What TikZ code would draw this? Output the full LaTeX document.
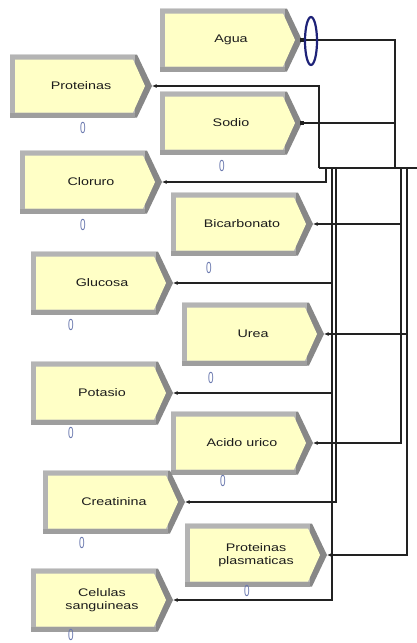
\documentclass[tikz,border=0pt]{standalone}
\usepackage{fontspec}
\setmainfont[FakeStretch=1.3]{Liberation Sans}
\newfontfamily\countfont[FakeStretch=0.62]{Liberation Sans}
\usetikzlibrary{arrows.meta,shapes.geometric}

\definecolor{procfill}{HTML}{FFFFC6}
\definecolor{bevlight}{HTML}{B4B4B4}
\definecolor{bevmid}{HTML}{9E9E9E}
\definecolor{bevdark}{HTML}{878787}
\definecolor{countblue}{HTML}{6A78AE}
\definecolor{queuenavy}{HTML}{1E2278}
\definecolor{wire}{HTML}{222222}
\definecolor{labelink}{HTML}{1C1C1C}

\tikzset{
  proclabel/.style={inner sep=0pt, align=center, text=labelink,
                    font=\fontsize{11}{12.5}\selectfont},
  counter/.style={inner sep=0pt, text=countblue,
                  font=\countfont\fontsize{16}{16}\selectfont},
  queue/.style={ellipse, draw=queuenavy, line width=2.2pt,
                minimum width=12pt, minimum height=48pt, inner sep=0pt},
  conn/.style={draw=wire, line width=1.15pt},
  into/.style={conn, -{Latex[length=4.5pt,width=4pt]}},
  exitbox/.style={rectangle, fill=wire, minimum size=3.2pt, inner sep=0pt},
}

% Process block: #1 name, #2 tip x, #3 tip y, #4 label
\newcommand\procblock[4]{%
  \begin{scope}[shift={(#2,#3)}]
    \fill[bevdark] (-142,-31.5) -- (-15,-31.5) -- (0,0) -- (-15,31.5)
                   -- (-142,31.5) -- cycle;
    \fill[bevlight] (-142,-31.5) rectangle (-17,31.5);
    \fill[bevmid] (-142,26.5) rectangle (-17,31.5);
    \fill[procfill] (-137,-26.5) -- (-19,-26.5) -- (-7,0) -- (-19,26.5)
                    -- (-137,26.5) -- cycle;
  \end{scope}
  \node[proclabel] (#1) at (#2-71,#3) {#4};
  \coordinate (#1 tip) at (#2,#3);
}

\begin{document}
\begin{tikzpicture}[x=1pt,y=-1pt]
  \useasboundingbox (0,0) rectangle (417,643);

  % blocks
  \procblock{agua}{302}{40}{Agua}
  \procblock{proteinas}{152}{86}{Proteinas}
  \procblock{sodio}{302}{123}{Sodio}
  \procblock{cloruro}{162}{182}{Cloruro}
  \procblock{bicarbonato}{313}{224}{Bicarbonato}
  \procblock{glucosa}{173}{283}{Glucosa}
  \procblock{urea}{324}{334}{Urea}
  \procblock{potasio}{173}{393}{Potasio}
  \procblock{acido}{313}{443}{Acido urico}
  \procblock{creatinina}{185}{502}{Creatinina}
  \procblock{plasma}{327}{555}{Proteinas\\plasmaticas}
  \procblock{celulas}{173}{600}{Celulas\\sanguineas}

  % counters under the blocks
  \node[counter] (proteinas count)   at (83,128)  {0};
  \node[counter] (sodio count)       at (222,166) {0};
  \node[counter] (cloruro count)     at (83,225)  {0};
  \node[counter] (bicarbonato count) at (209,268) {0};
  \node[counter] (glucosa count)     at (71,325)  {0};
  \node[counter] (urea count)        at (211,378) {0};
  \node[counter] (potasio count)     at (71,433)  {0};
  \node[counter] (acido count)       at (223,481) {0};
  \node[counter] (creatinina count)  at (82,543)  {0};
  \node[counter] (plasma count)      at (247,591) {0};
  \node[counter] (celulas count)     at (71,635)  {0};

  % bus and drop points
  \coordinate (bus west) at (319,168);
  \coordinate (bus east) at (417,168);
  \coordinate (bus join) at (395,168);
  \coordinate (drop cl)  at (326,168);
  \coordinate (drop a)   at (332,168);
  \coordinate (drop b)   at (336,168);
  \coordinate (drop c)   at (401,168);
  \coordinate (drop d)   at (407,168);

  % sources
  \draw[conn] (agua tip) -| (bus join);
  \draw[conn] (sodio tip) -- (sodio tip -| bus join);
  \draw[conn] (bus west) -- (bus east);
  \node[exitbox] (agua out) at (agua tip) {};
  \node[exitbox] (sodio out) at (sodio tip) {};
  \node[queue] (agua queue) at (311,41) {};

  % destinations
  \draw[into] (bus west) |- (proteinas tip);
  \draw[into] (drop cl) |- (cloruro tip);
  \draw[into] (drop a) |- (glucosa tip);
  \draw[into] (drop a) |- (potasio tip);
  \draw[into] (drop a) |- (celulas tip);
  \draw[into] (drop b) |- (creatinina tip);
  \draw[into] (drop c) |- (bicarbonato tip);
  \draw[into] (drop c) |- (acido tip);
  \draw[into] (drop d) |- (urea tip);
  \draw[into] (drop d) |- (plasma tip);
\end{tikzpicture}
\end{document}
